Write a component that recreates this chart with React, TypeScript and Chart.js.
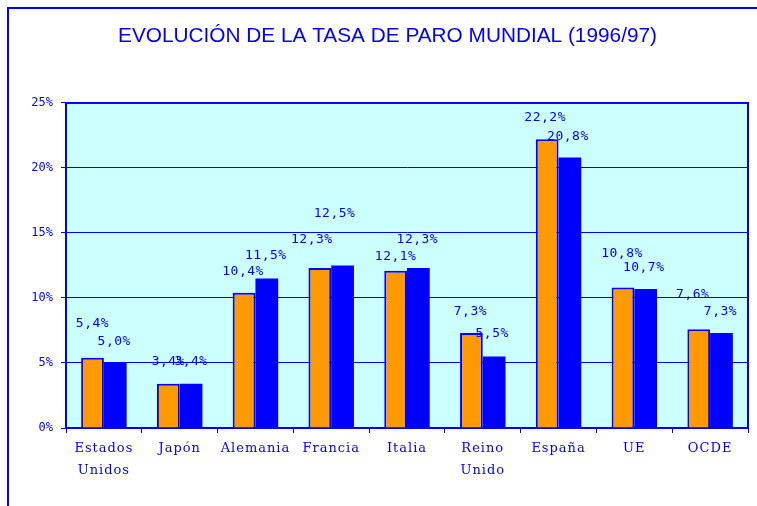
import React, { useEffect, useRef } from "react";
import { Chart, registerables } from "chart.js";

Chart.register(...registerables);

const TITLE = "EVOLUCIÓN DE LA TASA DE PARO MUNDIAL (1996/97)";
const categories: (string | string[])[] = [
  ["Estados", "Unidos"],
  "Japón",
  "Alemania",
  "Francia",
  "Italia",
  ["Reino", "Unido"],
  "España",
  "UE",
  "OCDE",
];
const values1996 = [5.4, 3.4, 10.4, 12.3, 12.1, 7.3, 22.2, 10.8, 7.6];
const values1997 = [5.0, 3.4, 11.5, 12.5, 12.3, 5.5, 20.8, 10.7, 7.3];
const yTicks = [0, 5, 10, 15, 20, 25];

// value-label nudges (pixels, relative to the top centre of each bar)
const labelDx = [
  [0, 0, -1, -8, 0, -1, -2, -1, -6],
  [-1, 0, -1, -8, -1, -2, -2, -2, -1],
];
const labelDy = [
  [-34, -22, -21, -28, -14.5, -21, -21.5, -33.5, -35],
  [-21, -22, -22.5, -51.5, -28, -22.5, -20.5, -21, -21],
];

const BLUE = "#0000FF";
const ORANGE = "#FF9900";
const PLOT_BG = "#CCFFFF";

const fmt = (v: number) => v.toFixed(1).replace(".", ",") + "%";

const decorPlugin = {
  id: "decor",
  beforeDraw(chart: any) {
    const { ctx, chartArea: a } = chart;
    ctx.save();
    ctx.fillStyle = PLOT_BG;
    ctx.fillRect(a.left, a.top, a.right - a.left, a.bottom - a.top);
    ctx.restore();
  },
  beforeDatasetsDraw(chart: any) {
    const { ctx, chartArea: a } = chart;
    ctx.save();
    ctx.strokeStyle = BLUE;
    ctx.lineWidth = 2;
    ctx.strokeRect(a.left, a.top, a.right - a.left, a.bottom - a.top);
    ctx.restore();
  },
  afterDatasetsDraw(chart: any) {
    const { ctx } = chart;
    ctx.save();
    ctx.font = "13px 'DejaVu Sans Mono'";
    (ctx as any).letterSpacing = "0.5px";
    ctx.fillStyle = BLUE;
    ctx.textAlign = "center";
    ctx.textBaseline = "middle";
    chart.data.datasets.forEach((ds: any, di: number) => {
      const meta = chart.getDatasetMeta(di);
      meta.data.forEach((bar: any, i: number) => {
        const v = ds.data[i] as number;
        ctx.fillText(fmt(v), bar.x + labelDx[di][i], bar.y + labelDy[di][i]);
      });
    });
    ctx.restore();
    // category labels (drawn in a later layer) use a slightly spaced serif
    (ctx as any).letterSpacing = "1px";
  },
  afterDraw(chart: any) {
    (chart.ctx as any).letterSpacing = "0px";
  },
};

export default function App() {
  const ref = useRef<HTMLCanvasElement | null>(null);

  useEffect(() => {
    if (!ref.current) return;
    const chart = new Chart(ref.current, {
      type: "bar",
      data: {
        labels: categories as any,
        datasets: [
          {
            label: "1996",
            data: values1996,
            backgroundColor: ORANGE,
            borderColor: BLUE,
            borderWidth: 2,
            barPercentage: 1.0,
            categoryPercentage: 0.6,
          },
          {
            label: "1997",
            data: values1997,
            backgroundColor: BLUE,
            borderColor: BLUE,
            borderWidth: 0,
            barPercentage: 1.0,
            categoryPercentage: 0.6,
          },
        ],
      },
      options: {
        responsive: false,
        animation: false,
        devicePixelRatio: 1,
        layout: { padding: { left: 27, right: 9, top: 0, bottom: 0 } },
        plugins: {
          legend: { display: false },
          tooltip: { enabled: false },
          title: {
            display: true,
            text: TITLE,
            color: BLUE,
            font: { family: "'Liberation Sans', Arial, sans-serif", size: 20.8, weight: "normal", lineHeight: 1.2 },
            padding: { top: 23.8, bottom: 54.2 },
          },
        },
        scales: {
          x: {
            grid: {
              offset: true,
              drawOnChartArea: false,
              drawTicks: true,
              tickLength: 5,
              color: BLUE,
              lineWidth: 1,
            },
            border: { color: BLUE, width: 2 },
            ticks: {
              color: BLUE,
              font: { family: "'DejaVu Serif', serif", size: 13, lineHeight: 22 / 13 },
              padding: 5,
              maxRotation: 0,
              autoSkip: false,
              z: 1,
            },
            afterFit: (s: any) => {
              s.height = 78;
            },
          } as any,
          y: {
            min: 0,
            max: 25,
            grid: { color: BLUE, lineWidth: 1, tickLength: 5, drawTicks: true },
            border: { color: BLUE, width: 2 },
            ticks: {
              color: BLUE,
              font: { family: "'DejaVu Sans Mono', monospace", size: 12 },
              padding: 8,
              callback: (v: any) => v + "%",
            },
            afterBuildTicks: (s: any) => {
              s.ticks = yTicks.map((v) => ({ value: v }));
            },
            afterFit: (s: any) => {
              s.width = 39;
            },
          } as any,
        },
      },
      plugins: [decorPlugin],
    });
    return () => chart.destroy();
  }, []);

  return (
    <div style={{ position: "fixed", left: 0, top: 0, width: 757, height: 506, overflow: "hidden", background: "#fff" }}>
      <div
        style={{
          position: "absolute",
          left: 7,
          top: 7,
          width: 800,
          height: 600,
          borderLeft: `2px solid ${BLUE}`,
          borderTop: `2px solid ${BLUE}`,
        }}
      />
      <canvas
        ref={ref}
        width={757}
        height={506}
        style={{ position: "absolute", left: 0, top: 0, width: 757, height: 506 }}
      />
    </div>
  );
}
